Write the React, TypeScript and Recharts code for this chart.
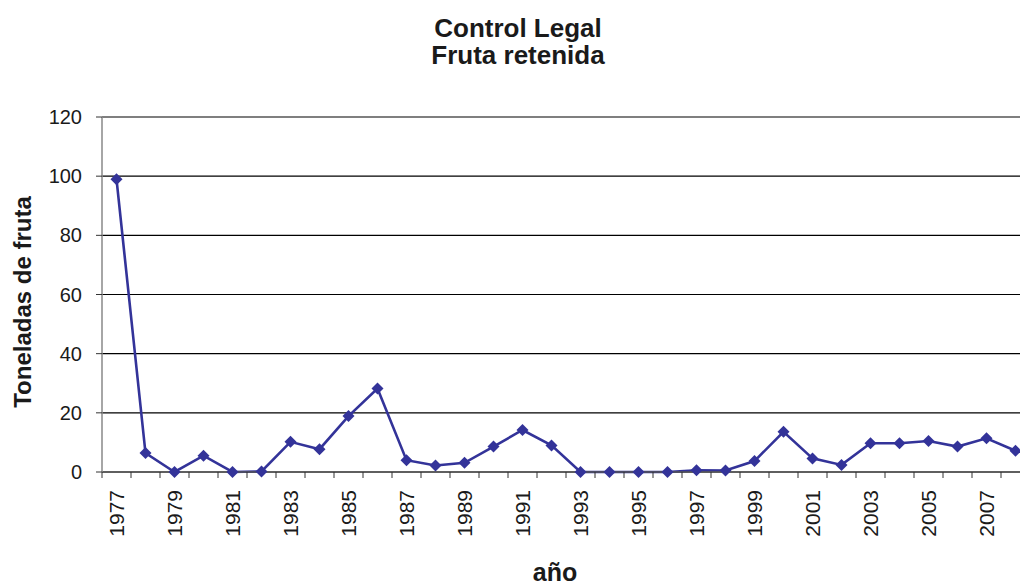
import { CartesianGrid, Line, LineChart, XAxis, YAxis } from 'recharts';

// años y toneladas de fruta retenida
const YEARS = [
  '1977', '1978', '1979', '1980', '1981', '1982', '1983', '1984',
  '1985', '1986', '1987', '1988', '1989', '1990', '1991', '1992',
  '1993', '1994', '1995', '1996', '1997', '1998', '1999', '2000',
  '2001', '2002', '2003', '2004', '2005', '2006', '2007', '2008',
];
const TONS = [
  99, 6.4, 0, 5.5, 0, 0.2, 10.2, 7.7,
  18.9, 28.2, 4.0, 2.2, 3.1, 8.6, 14.2, 9.0,
  0, 0, 0, 0, 0.6, 0.5, 3.7, 13.6,
  4.6, 2.4, 9.7, 9.7, 10.5, 8.6, 11.4, 7.2,
];
const Y_TICKS = [0, 20, 40, 60, 80, 100, 120];

const data = YEARS.map((year, i) => ({ year, tons: TONS[i] }));

const FONT = '"Liberation Sans", Arial, sans-serif';
const NAVY = '#333399';
const W = 1040;
const H = 584;
const MARGIN = { top: 117, right: 10, bottom: 12, left: 42 };
const Y_AXIS_W = 60;
const HALF_BAND = (W - MARGIN.left - MARGIN.right - Y_AXIS_W) / YEARS.length / 2;

interface TickProps {
  x?: number;
  y?: number;
  payload?: { value?: string };
}
// etiqueta rotada + marcas entre categorías (estilo Excel)
function YearTick({ x = 0, y = 0, payload }: TickProps) {
  const ty = y + 18;
  return (
    <g>
      <line x1={x - HALF_BAND} x2={x - HALF_BAND} y1={y} y2={y + 6} stroke="#333" />
      <line x1={x + HALF_BAND} x2={x + HALF_BAND} y1={y} y2={y + 6} stroke="#333" />
      <text
        x={x}
        y={ty}
        transform={`rotate(-90 ${x} ${ty})`}
        textAnchor="end"
        dy="0.36em"
        fill="#1a1a1a"
        fontSize={21}
        fontFamily={FONT}
      >
        {payload?.value}
      </text>
    </g>
  );
}

interface DotProps {
  cx?: number;
  cy?: number;
  index?: number;
}
function Diamond({ cx, cy, index }: DotProps) {
  if (cx == null || cy == null) return null;
  const r = 6;
  return (
    <polygon
      key={index}
      points={`${cx},${cy - r} ${cx + r},${cy} ${cx},${cy + r} ${cx - r},${cy}`}
      fill={NAVY}
    />
  );
}

export default function App() {
  return (
    <div
      style={{
        position: 'fixed',
        left: 0,
        top: 0,
        width: 1020,
        height: 584,
        overflow: 'hidden',
        background: '#fff',
        fontFamily: FONT,
      }}
    >
      <div
        style={{
          position: 'absolute',
          left: 318,
          top: 14.5,
          width: 400,
          textAlign: 'center',
          fontSize: 26,
          lineHeight: '27px',
          fontWeight: 'bold',
          color: '#1a1a1a',
        }}
      >
        Control Legal
        <br />
        Fruta retenida
      </div>
      <div
        style={{
          position: 'absolute',
          left: 23,
          top: 302,
          transform: 'translate(-50%, -50%) rotate(-90deg)',
          whiteSpace: 'nowrap',
          fontSize: 24,
          lineHeight: 1,
          fontWeight: 'bold',
          color: '#1a1a1a',
        }}
      >
        Toneladas de fruta
      </div>
      <div
        style={{
          position: 'absolute',
          left: 455,
          top: 559.5,
          width: 200,
          textAlign: 'center',
          fontSize: 25,
          lineHeight: 1,
          fontWeight: 'bold',
          color: '#1a1a1a',
        }}
      >
        año
      </div>
      <LineChart width={W} height={H} data={data} margin={MARGIN} style={{ position: 'absolute', left: 0, top: 0 }}>
        <CartesianGrid horizontal vertical={false} stroke="#000" strokeWidth={1.2} />
        <XAxis
          dataKey="year"
          scale="band"
          interval={1}
          height={100}
          tickLine={false}
          tickSize={0}
          tickMargin={0}
          axisLine={{ stroke: '#555', strokeWidth: 1.5 }}
          tick={<YearTick />}
        />
        <YAxis
          domain={[0, 120]}
          ticks={Y_TICKS}
          width={Y_AXIS_W}
          tickSize={6}
          tickMargin={14}
          axisLine={{ stroke: '#888', strokeWidth: 1.5 }}
          tickLine={{ stroke: '#333' }}
          tick={{ fill: '#1a1a1a', fontSize: 20, fontFamily: FONT }}
        />
        <Line
          dataKey="tons"
          stroke={NAVY}
          strokeWidth={2.6}
          dot={<Diamond />}
          activeDot={false}
          isAnimationActive={false}
        />
      </LineChart>
    </div>
  );
}
